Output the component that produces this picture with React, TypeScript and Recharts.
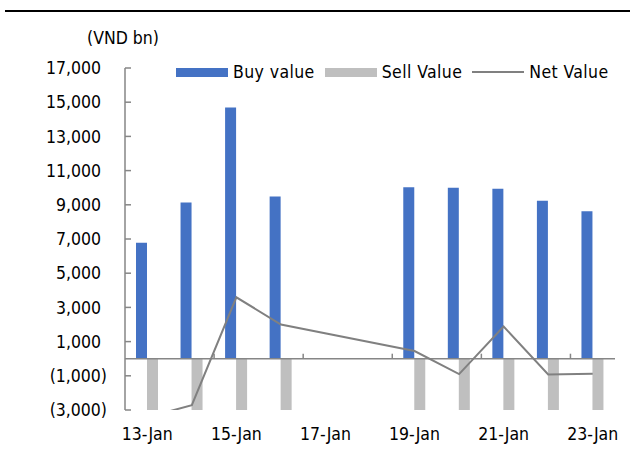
import React from "react";
import {
  ComposedChart,
  Bar,
  Line,
  XAxis,
  YAxis,
  ReferenceLine,
} from "recharts";

const dates = [
  "13-Jan", "14-Jan", "15-Jan", "16-Jan", "17-Jan", "18-Jan",
  "19-Jan", "20-Jan", "21-Jan", "22-Jan", "23-Jan",
];
const buyValue = [6780, 9130, 14690, 9480, null, null, 10030, 10000, 9940, 9240, 8620];
const sellValue = [-10200, -11850, -11100, -7480, null, null, -9580, -10900, -8060, -10160, -9500];
const netValue = [-3420, -2720, 3590, 2000, null, null, 450, -900, 1880, -920, -880];
const yTicks = [-3000, -1000, 1000, 3000, 5000, 7000, 9000, 11000, 13000, 15000, 17000];

const FONT = "'DejaVu Sans Condensed', 'DejaVu Sans', sans-serif";
const BLUE = "#4472C4";
const GRAY = "#BFBFBF";
const LINE = "#808080";
const AXIS = "#868686";

const data = dates.map((d, i) => ({
  date: d,
  buy: buyValue[i],
  sell: sellValue[i],
  net: netValue[i],
}));

const fmt = (v: number) => {
  const s = Math.abs(v).toLocaleString("en-US");
  return v < 0 ? `(${s})` : s;
};

// y tick: label left of axis, short tick mark pointing into the plot
const YTick = (props: any) => {
  const { x, y, payload } = props;
  const v = payload.value as number;
  return (
    <g>
      <line x1={x + 18} x2={x + 24} y1={y} y2={y} stroke={AXIS} strokeWidth={1.5} />
      <text
        x={v < 0 ? x : x - 6}
        y={y}
        dy="0.35em"
        textAnchor="end"
        fontSize={17.5}
        fontFamily={FONT}
        fill="#000"
      >
        {fmt(v)}
      </text>
    </g>
  );
};

// zero line with tick marks every two categories
const ZeroLine = (props: any) => {
  const { x1, x2, y1 } = props;
  const step = (x2 - x1) / dates.length;
  const marks = [2, 4, 6, 8, 10];
  return (
    <g>
      <line x1={x1} x2={x2} y1={y1} y2={y1} stroke={AXIS} strokeWidth={1.5} />
      {marks.map((m) => (
        <line
          key={m}
          x1={x1 + m * step}
          x2={x1 + m * step}
          y1={y1}
          y2={y1 - 5}
          stroke={AXIS}
          strokeWidth={1.5}
        />
      ))}
    </g>
  );
};

const legendItems = [
  { label: "Buy value", color: BLUE, kind: "bar" },
  { label: "Sell Value", color: GRAY, kind: "bar" },
  { label: "Net Value", color: LINE, kind: "line" },
];

export default function App() {
  return (
    <div
      style={{
        position: "absolute",
        top: 0,
        left: 0,
        width: 635,
        height: 450,
        background: "#fff",
        fontFamily: FONT,
      }}
    >
      <div
        style={{
          position: "absolute",
          top: 10,
          left: 5,
          width: 625,
          height: 2,
          background: "#000",
        }}
      />
      <div
        style={{
          position: "absolute",
          top: 27,
          left: 87,
          fontSize: 17.5,
          lineHeight: "22px",
          color: "#000",
        }}
      >
        (VND bn)
      </div>
      <div
        style={{
          position: "absolute",
          top: 61,
          left: 176,
          display: "flex",
          alignItems: "center",
          fontSize: 17.5,
          letterSpacing: 0.4,
          lineHeight: "22px",
          color: "#000",
          zIndex: 2,
        }}
      >
        {legendItems.map((it) => (
          <div key={it.label} style={{ display: "flex", alignItems: "center", marginRight: 10 }}>
            <div
              style={{
                width: 52,
                height: it.kind === "bar" ? 9 : 2,
                background: it.color,
                marginRight: 5,
              }}
            />
            <span>{it.label}</span>
          </div>
        ))}
      </div>
      <ComposedChart
        width={635}
        height={450}
        data={data}
        margin={{ top: 68, right: 20, left: 0, bottom: 0 }}
        barGap={0}
      >
        <XAxis
          dataKey="date"
          height={40}
          axisLine={false}
          tickLine={false}
          tickSize={0}
          tickMargin={18}
          interval={1}
          tick={{ fontSize: 17.5, fontFamily: FONT, fill: "#000" }}
        />
        <YAxis
          width={125}
          domain={[-3000, 17000]}
          ticks={yTicks}
          allowDataOverflow
          interval={0}
          axisLine={{ stroke: AXIS, strokeWidth: 1.5 }}
          tickLine={false}
          tickSize={0}
          tickMargin={18}
          tick={<YTick />}
        />
        <Bar dataKey="buy" fill={BLUE} barSize={11} isAnimationActive={false} />
        <Bar dataKey="sell" fill={GRAY} barSize={11} isAnimationActive={false} />
        <ReferenceLine y={0} shape={<ZeroLine />} />
        <Line
          dataKey="net"
          type="linear"
          stroke={LINE}
          strokeWidth={2}
          dot={false}
          activeDot={false}
          connectNulls
          isAnimationActive={false}
        />
      </ComposedChart>
    </div>
  );
}
